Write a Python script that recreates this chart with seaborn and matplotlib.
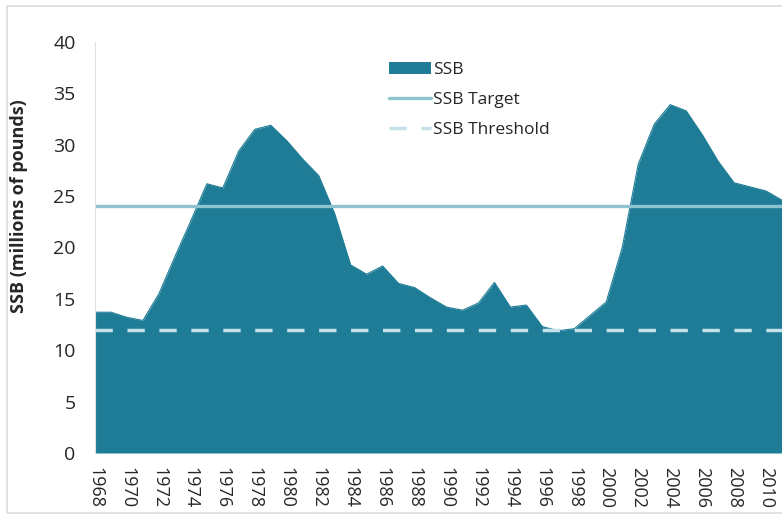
import numpy as np
import pandas as pd
import matplotlib
matplotlib.use("Agg")
import matplotlib.pyplot as plt
import seaborn as sns
from matplotlib.patches import Patch, Rectangle
from matplotlib.lines import Line2D

# Spawning stock biomass (millions of pounds)
years = list(range(1968, 2012))
ssb = [
    13.7, 13.7, 13.2, 12.9, 15.5, 19.1, 22.6, 26.2, 25.8, 29.4,
    31.5, 31.9, 30.4, 28.6, 27.0, 23.3, 18.3, 17.4, 18.2, 16.5,
    16.1, 15.1, 14.2, 13.9, 14.6, 16.6, 14.2, 14.4, 12.3, 11.9,
    12.1, 13.4, 14.7, 20.0, 28.1, 32.0, 33.9, 33.3, 31.0, 28.4,
    26.3, 25.9, 25.5, 24.6,
]
ssb_target = 24.0
ssb_threshold = 12.0
tick_years = list(range(1968, 2011, 2))
y_ticks = list(range(0, 41, 5))

FILL = "#1e7c96"
TARGET = "#8fc3d0"
THRESH = "#c3e2ea"

df = pd.DataFrame({"year": years, "ssb": ssb})

sns.set_style("white")
plt.rcParams["font.family"] = ["Open Sans", "DejaVu Sans"]

fig = plt.figure(figsize=(7.82, 5.16), dpi=100)
ax = fig.add_axes([95 / 782, 63 / 516, 687 / 782, 411 / 516])

# light frame around the whole picture, as in the screenshot
fig.patches.append(Rectangle((7 / 782, 3 / 516), 1.0, 507 / 516, transform=fig.transFigure,
                             fill=False, edgecolor="#dcdcdc", linewidth=1.2))

ax.fill_between(df["year"], 0, df["ssb"], color=FILL, linewidth=0)
sns.lineplot(data=df, x="year", y="ssb", ax=ax, color=FILL, linewidth=0.8)

ax.axhline(ssb_target, color=TARGET, linewidth=2.4)
ax.axhline(ssb_threshold, color=THRESH, linewidth=2.5, linestyle=(0, (5, 4.2)))

ax.set_xlim(1968, 2011)
ax.set_ylim(0, 40)
ax.set_xticks(tick_years)
ax.set_xticklabels([str(y) for y in tick_years], rotation=270, fontsize=13)
ax.set_yticks(y_ticks)
ax.set_yticklabels([str(v) for v in y_ticks], fontsize=14)
ax.tick_params(axis="x", length=0, pad=10)
ax.tick_params(axis="y", length=0, pad=14)
ax.set_xlabel("")
ax.set_ylabel("SSB (millions of pounds)", fontsize=13, fontweight="bold")
ax.yaxis.set_label_coords(-0.097, 0.60)

for side in ["top", "right", "bottom"]:
    ax.spines[side].set_visible(False)
ax.spines["left"].set_color("#e0e0e0")
ax.spines["left"].set_linewidth(0.8)

handles = [
    Patch(facecolor=FILL, edgecolor="none", label="SSB"),
    Line2D([0], [0], color=TARGET, linewidth=2.4, label="SSB Target"),
    Line2D([0], [0], color=THRESH, linewidth=2.5, linestyle=(0, (5, 4.2)), label="SSB Threshold"),
]
ax.legend(
    handles=handles,
    loc="upper left",
    bbox_to_anchor=(0.405, 0.99),
    frameon=False,
    fontsize=12.5,
    handlelength=2.4,
    handletextpad=0.15,
    labelspacing=0.8,
)

fig.savefig("out.png", dpi=100)
